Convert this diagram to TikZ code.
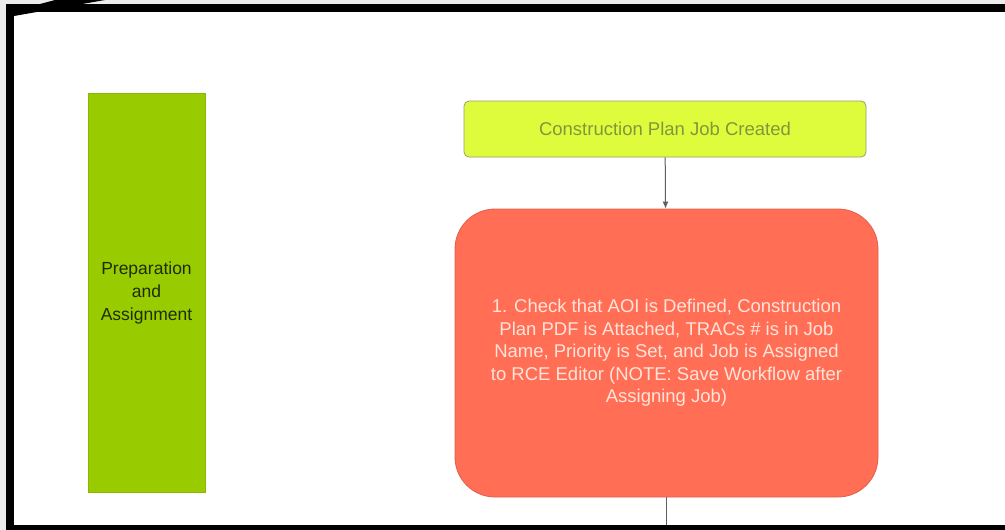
\documentclass[tikz,border=0pt]{standalone}
\usepackage{fontspec}
\setmainfont{Liberation Sans}
\usetikzlibrary{arrows.meta}
\definecolor{pagegray}{RGB}{236,236,236}
\definecolor{phasegreen}{RGB}{153,204,0}
\definecolor{phasetext}{RGB}{30,45,0}
\definecolor{startfill}{RGB}{222,252,60}
\definecolor{startline}{RGB}{150,160,110}
\definecolor{starttext}{RGB}{130,150,60}
\definecolor{taskfill}{RGB}{255,110,85}
\definecolor{taskline}{RGB}{225,95,75}
\definecolor{tasktext}{RGB}{255,228,218}
\definecolor{linkgray}{RGB}{95,95,95}
\tikzset{
  phasebar/.style={draw=phasegreen!90!black, fill=phasegreen, text=phasetext,
    align=center, inner sep=0pt, minimum width=117pt, minimum height=399pt,
    font=\fontsize{17.5}{23}\selectfont},
  startbox/.style={draw=startline, fill=startfill, text=starttext, line width=0.8pt,
    rounded corners=5pt, inner sep=0pt, minimum width=402pt, minimum height=56pt,
    font=\fontsize{18.5}{22}\selectfont},
  taskbox/.style={draw=taskline, fill=taskfill, text=tasktext, line width=0.8pt,
    rounded corners=40pt, inner sep=0pt, minimum width=423pt, minimum height=288pt,
    align=center, font=\fontsize{18.5}{22.5}\selectfont},
  link/.style={draw=linkgray, line width=1pt},
  linkarrow/.style={link, -{Latex[length=7pt,width=6pt]}}
}
\begin{document}
\begin{tikzpicture}[x=1pt, y=-1pt]
  % canvas and frame
  \useasboundingbox (0,0) rectangle (1005,530);
  \fill[pagegray] (0,0) rectangle (1005,530);
  \fill[white] (14,12) rectangle (1005,525);
  \fill[black] (6,4) rectangle (1005,12);
  \fill[black] (6,4) rectangle (14,530);
  \fill[black] (6,525) rectangle (1005,530);
  \fill[black] (14,16) -- (105,0) -- (55,0) -- (40,4) -- (14,4) -- cycle;

  % swimlane label
  \node[phasebar] (phase) at (146.5,292.5) {Preparation\\and\\Assignment};

  % flow
  \node[startbox] (start) at (665,129) {Construction Plan Job Created};
  \node[taskbox] (check) at (666.5,353)
    {1. Check that AOI is Defined, Construction\\
     Plan PDF is Attached, TRACs \# is in Job\\
     Name, Priority is Set, and Job is Assigned\\
     to RCE Editor (NOTE: Save Workflow after\\
     Assigning Job)};
  \coordinate (next) at (666.5,525);

  \draw[linkarrow] (start) -- (check);
  \draw[link] (check) -- (next);
\end{tikzpicture}
\end{document}
